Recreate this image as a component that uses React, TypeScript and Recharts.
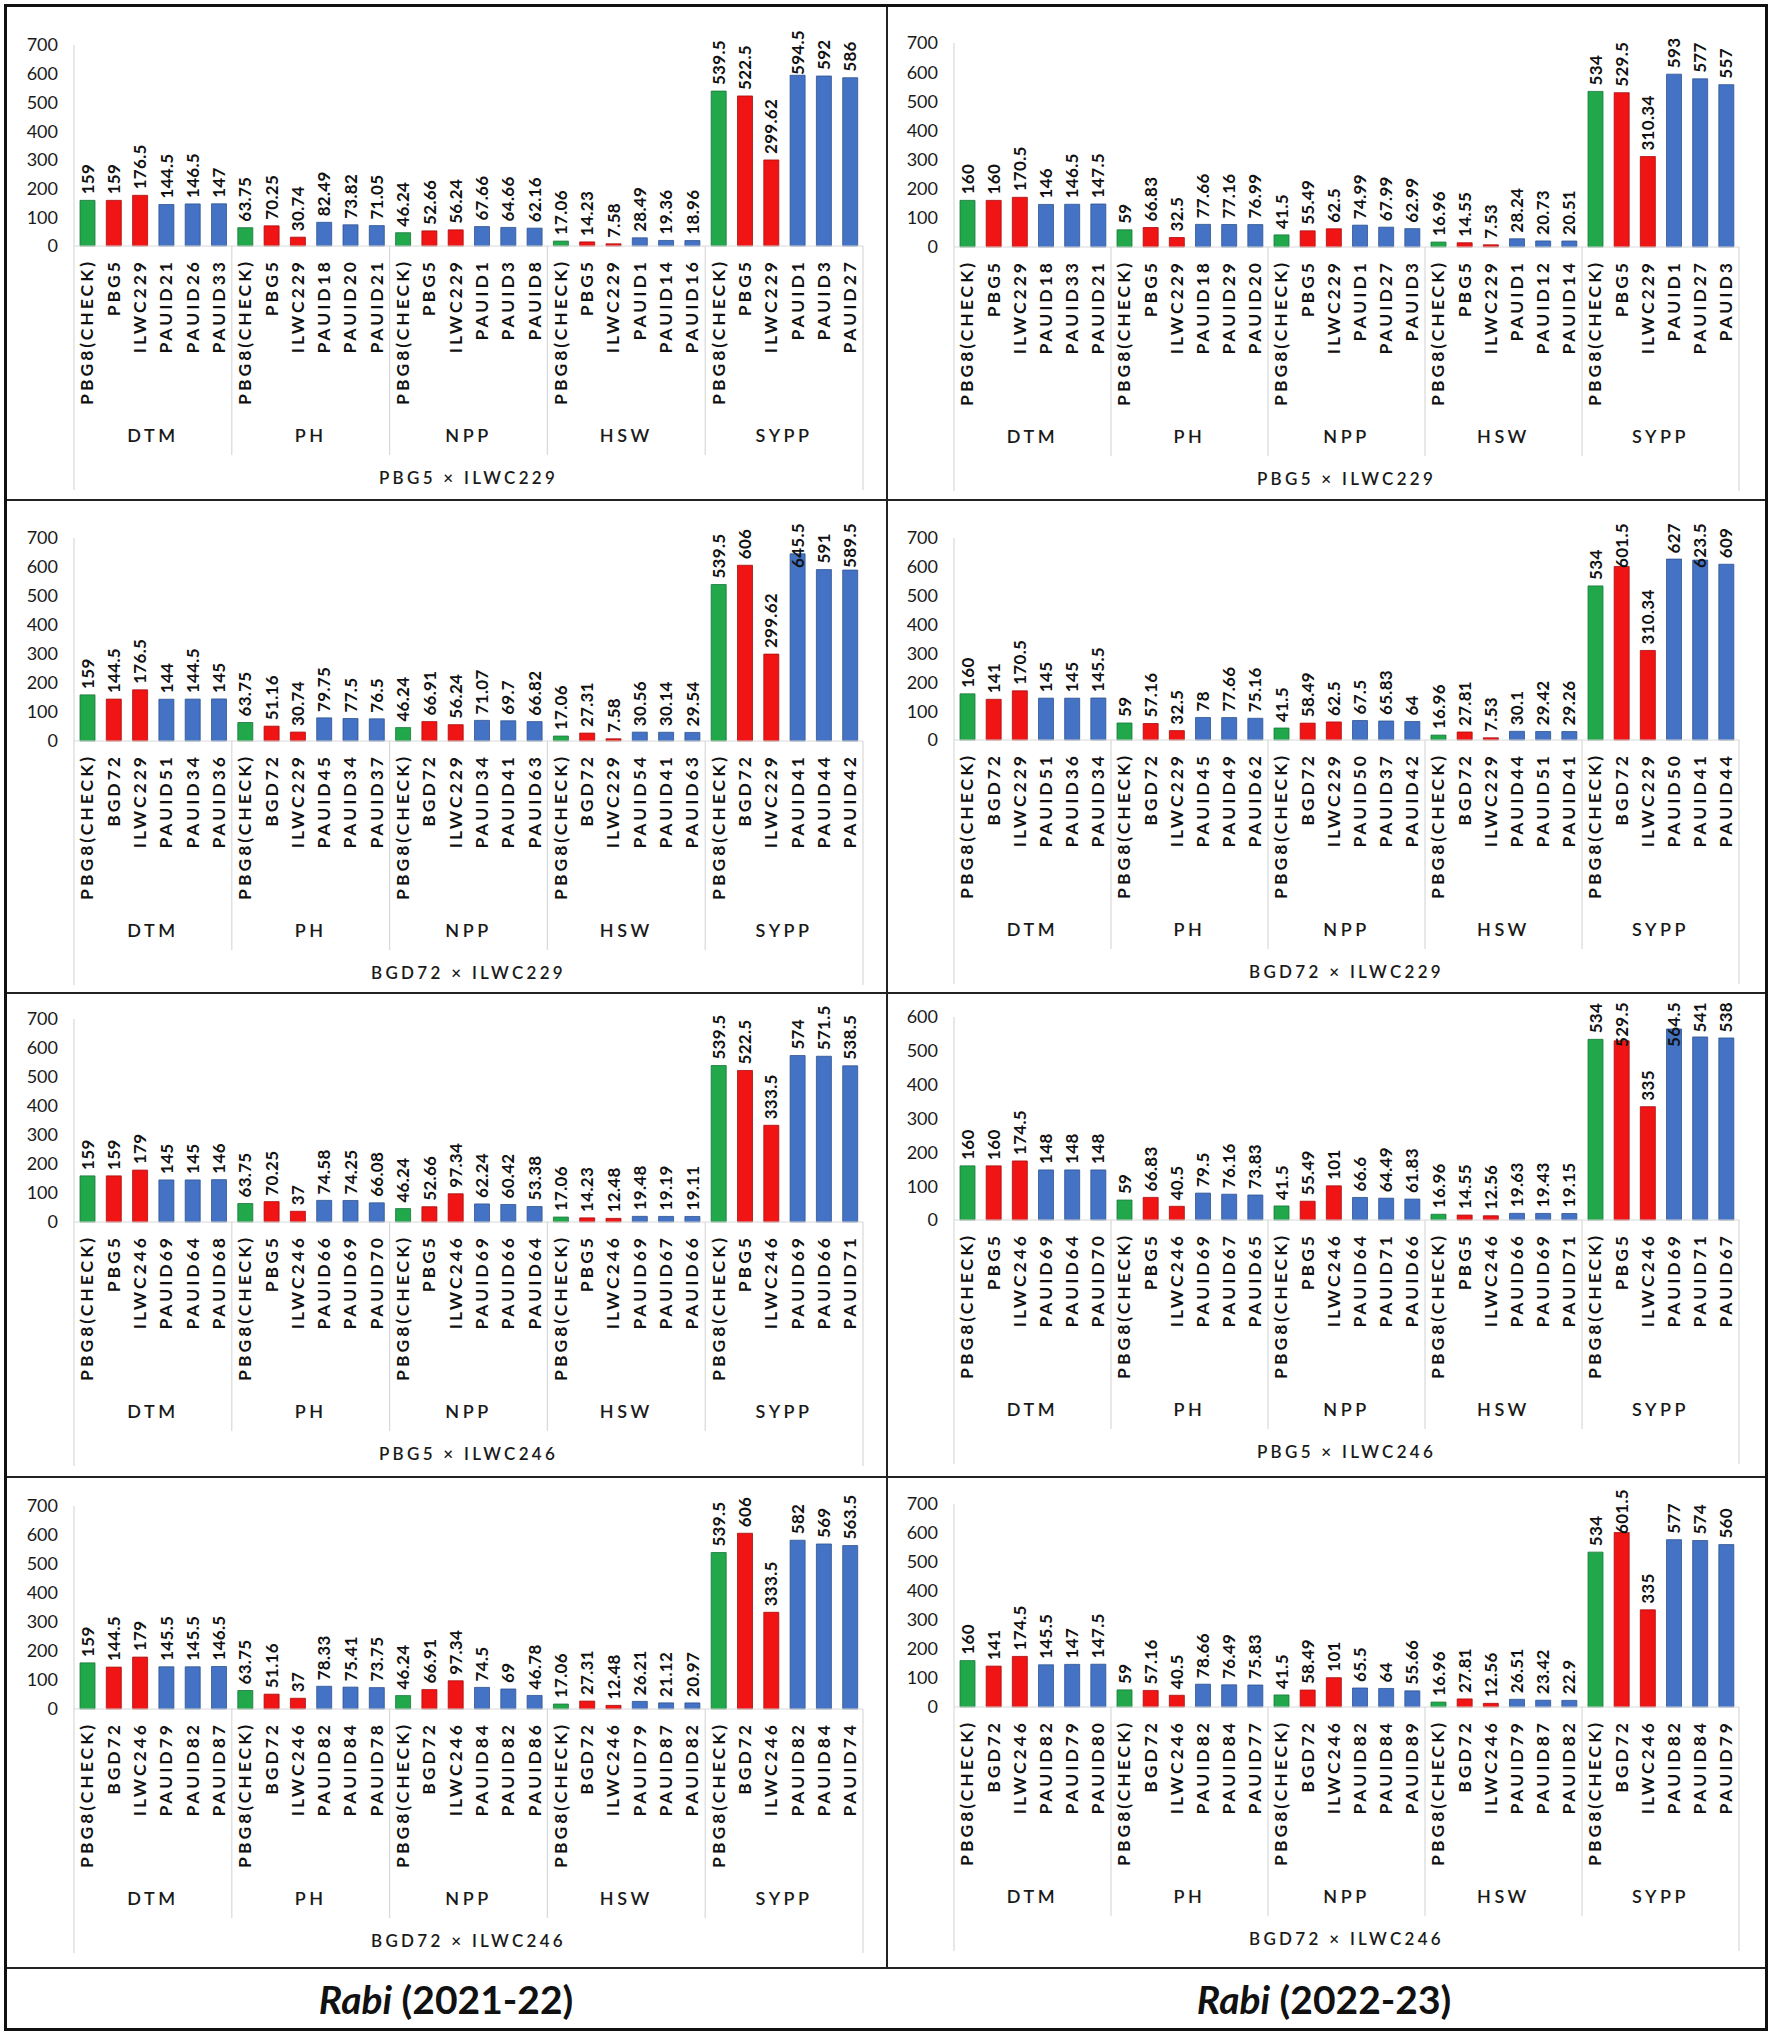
import React from "react";
import { BarChart, Bar, XAxis, YAxis, Cell, LabelList } from "recharts";

// trait groups and bar colours (check, parents, three best PAUIDs)
const groups = ["DTM", "PH", "NPP", "HSW", "SYPP"];
const barColors = ["#21a84b", "#f01414", "#f01414", "#4472c4", "#4472c4", "#4472c4"];
const edgeColors = ["#17763a", "#a80d0d", "#a80d0d", "#2f5490", "#2f5490", "#2f5490"];

const ticks700 = [0, 100, 200, 300, 400, 500, 600, 700];
const ticks600 = [0, 100, 200, 300, 400, 500, 600];

// Rabi 2021-22, PBG5 x ILWC229
const namesA = [
  "PBG8(CHECK)", "PBG5", "ILWC229", "PAUID21", "PAUID26", "PAUID33",
  "PBG8(CHECK)", "PBG5", "ILWC229", "PAUID18", "PAUID20", "PAUID21",
  "PBG8(CHECK)", "PBG5", "ILWC229", "PAUID1", "PAUID3", "PAUID8",
  "PBG8(CHECK)", "PBG5", "ILWC229", "PAUID1", "PAUID14", "PAUID16",
  "PBG8(CHECK)", "PBG5", "ILWC229", "PAUID1", "PAUID3", "PAUID27",
];
const valuesA = [
  159, 159, 176.5, 144.5, 146.5, 147,
  63.75, 70.25, 30.74, 82.49, 73.82, 71.05,
  46.24, 52.66, 56.24, 67.66, 64.66, 62.16,
  17.06, 14.23, 7.58, 28.49, 19.36, 18.96,
  539.5, 522.5, 299.62, 594.5, 592, 586,
];

// Rabi 2022-23, PBG5 x ILWC229
const namesB = [
  "PBG8(CHECK)", "PBG5", "ILWC229", "PAUID18", "PAUID33", "PAUID21",
  "PBG8(CHECK)", "PBG5", "ILWC229", "PAUID18", "PAUID29", "PAUID20",
  "PBG8(CHECK)", "PBG5", "ILWC229", "PAUID1", "PAUID27", "PAUID3",
  "PBG8(CHECK)", "PBG5", "ILWC229", "PAUID1", "PAUID12", "PAUID14",
  "PBG8(CHECK)", "PBG5", "ILWC229", "PAUID1", "PAUID27", "PAUID3",
];
const valuesB = [
  160, 160, 170.5, 146, 146.5, 147.5,
  59, 66.83, 32.5, 77.66, 77.16, 76.99,
  41.5, 55.49, 62.5, 74.99, 67.99, 62.99,
  16.96, 14.55, 7.53, 28.24, 20.73, 20.51,
  534, 529.5, 310.34, 593, 577, 557,
];

// Rabi 2021-22, BGD72 x ILWC229
const namesC = [
  "PBG8(CHECK)", "BGD72", "ILWC229", "PAUID51", "PAUID34", "PAUID36",
  "PBG8(CHECK)", "BGD72", "ILWC229", "PAUID45", "PAUID34", "PAUID37",
  "PBG8(CHECK)", "BGD72", "ILWC229", "PAUID34", "PAUID41", "PAUID63",
  "PBG8(CHECK)", "BGD72", "ILWC229", "PAUID54", "PAUID41", "PAUID63",
  "PBG8(CHECK)", "BGD72", "ILWC229", "PAUID41", "PAUID44", "PAUID42",
];
const valuesC = [
  159, 144.5, 176.5, 144, 144.5, 145,
  63.75, 51.16, 30.74, 79.75, 77.5, 76.5,
  46.24, 66.91, 56.24, 71.07, 69.7, 66.82,
  17.06, 27.31, 7.58, 30.56, 30.14, 29.54,
  539.5, 606, 299.62, 645.5, 591, 589.5,
];

// Rabi 2022-23, BGD72 x ILWC229
const namesD = [
  "PBG8(CHECK)", "BGD72", "ILWC229", "PAUID51", "PAUID36", "PAUID34",
  "PBG8(CHECK)", "BGD72", "ILWC229", "PAUID45", "PAUID49", "PAUID62",
  "PBG8(CHECK)", "BGD72", "ILWC229", "PAUID50", "PAUID37", "PAUID42",
  "PBG8(CHECK)", "BGD72", "ILWC229", "PAUID44", "PAUID51", "PAUID41",
  "PBG8(CHECK)", "BGD72", "ILWC229", "PAUID50", "PAUID41", "PAUID44",
];
const valuesD = [
  160, 141, 170.5, 145, 145, 145.5,
  59, 57.16, 32.5, 78, 77.66, 75.16,
  41.5, 58.49, 62.5, 67.5, 65.83, 64,
  16.96, 27.81, 7.53, 30.1, 29.42, 29.26,
  534, 601.5, 310.34, 627, 623.5, 609,
];

// Rabi 2021-22, PBG5 x ILWC246
const namesE = [
  "PBG8(CHECK)", "PBG5", "ILWC246", "PAUID69", "PAUID64", "PAUID68",
  "PBG8(CHECK)", "PBG5", "ILWC246", "PAUID66", "PAUID69", "PAUID70",
  "PBG8(CHECK)", "PBG5", "ILWC246", "PAUID69", "PAUID66", "PAUID64",
  "PBG8(CHECK)", "PBG5", "ILWC246", "PAUID69", "PAUID67", "PAUID66",
  "PBG8(CHECK)", "PBG5", "ILWC246", "PAUID69", "PAUID66", "PAUID71",
];
const valuesE = [
  159, 159, 179, 145, 145, 146,
  63.75, 70.25, 37, 74.58, 74.25, 66.08,
  46.24, 52.66, 97.34, 62.24, 60.42, 53.38,
  17.06, 14.23, 12.48, 19.48, 19.19, 19.11,
  539.5, 522.5, 333.5, 574, 571.5, 538.5,
];

// Rabi 2022-23, PBG5 x ILWC246
const namesF = [
  "PBG8(CHECK)", "PBG5", "ILWC246", "PAUID69", "PAUID64", "PAUID70",
  "PBG8(CHECK)", "PBG5", "ILWC246", "PAUID69", "PAUID67", "PAUID65",
  "PBG8(CHECK)", "PBG5", "ILWC246", "PAUID64", "PAUID71", "PAUID66",
  "PBG8(CHECK)", "PBG5", "ILWC246", "PAUID66", "PAUID69", "PAUID71",
  "PBG8(CHECK)", "PBG5", "ILWC246", "PAUID69", "PAUID71", "PAUID67",
];
const valuesF = [
  160, 160, 174.5, 148, 148, 148,
  59, 66.83, 40.5, 79.5, 76.16, 73.83,
  41.5, 55.49, 101, 66.6, 64.49, 61.83,
  16.96, 14.55, 12.56, 19.63, 19.43, 19.15,
  534, 529.5, 335, 564.5, 541, 538,
];

// Rabi 2021-22, BGD72 x ILWC246
const namesG = [
  "PBG8(CHECK)", "BGD72", "ILWC246", "PAUID79", "PAUID82", "PAUID87",
  "PBG8(CHECK)", "BGD72", "ILWC246", "PAUID82", "PAUID84", "PAUID78",
  "PBG8(CHECK)", "BGD72", "ILWC246", "PAUID84", "PAUID82", "PAUID86",
  "PBG8(CHECK)", "BGD72", "ILWC246", "PAUID79", "PAUID87", "PAUID82",
  "PBG8(CHECK)", "BGD72", "ILWC246", "PAUID82", "PAUID84", "PAUID74",
];
const valuesG = [
  159, 144.5, 179, 145.5, 145.5, 146.5,
  63.75, 51.16, 37, 78.33, 75.41, 73.75,
  46.24, 66.91, 97.34, 74.5, 69, 46.78,
  17.06, 27.31, 12.48, 26.21, 21.12, 20.97,
  539.5, 606, 333.5, 582, 569, 563.5,
];

// Rabi 2022-23, BGD72 x ILWC246
const namesH = [
  "PBG8(CHECK)", "BGD72", "ILWC246", "PAUID82", "PAUID79", "PAUID80",
  "PBG8(CHECK)", "BGD72", "ILWC246", "PAUID82", "PAUID84", "PAUID77",
  "PBG8(CHECK)", "BGD72", "ILWC246", "PAUID82", "PAUID84", "PAUID89",
  "PBG8(CHECK)", "BGD72", "ILWC246", "PAUID79", "PAUID87", "PAUID82",
  "PBG8(CHECK)", "BGD72", "ILWC246", "PAUID82", "PAUID84", "PAUID79",
];
const valuesH = [
  160, 141, 174.5, 145.5, 147, 147.5,
  59, 57.16, 40.5, 78.66, 76.49, 75.83,
  41.5, 58.49, 101, 65.5, 64, 55.66,
  16.96, 27.81, 12.56, 26.51, 23.42, 22.9,
  534, 601.5, 335, 577, 574, 560,
];

const FONT = "Lato, 'Open Sans', sans-serif";

// layout of the 4x2 grid (page pixels)
const rows = [
  { top: 6, bottom: 500 },
  { top: 500, bottom: 993 },
  { top: 993, bottom: 1477 },
  { top: 1477, bottom: 1968 },
];
const sides = {
  L: { left: 6, width: 881, yw: 68, mr: 24 },
  R: { left: 888, width: 877, yw: 66, mr: 26 },
};

const panels = [
  { names: namesA, values: valuesA, title: "PBG5 × ILWC229", row: 0, side: "L", ymax: 700, plotTop: 45, zero: 246 },
  { names: namesB, values: valuesB, title: "PBG5 × ILWC229", row: 0, side: "R", ymax: 700, plotTop: 43, zero: 247 },
  { names: namesC, values: valuesC, title: "BGD72 × ILWC229", row: 1, side: "L", ymax: 700, plotTop: 538, zero: 741 },
  { names: namesD, values: valuesD, title: "BGD72 × ILWC229", row: 1, side: "R", ymax: 700, plotTop: 538, zero: 740 },
  { names: namesE, values: valuesE, title: "PBG5 × ILWC246", row: 2, side: "L", ymax: 700, plotTop: 1019, zero: 1222 },
  { names: namesF, values: valuesF, title: "PBG5 × ILWC246", row: 2, side: "R", ymax: 600, plotTop: 1017, zero: 1220 },
  { names: namesG, values: valuesG, title: "BGD72 × ILWC246", row: 3, side: "L", ymax: 700, plotTop: 1506, zero: 1709 },
  { names: namesH, values: valuesH, title: "BGD72 × ILWC246", row: 3, side: "R", ymax: 700, plotTop: 1504, zero: 1707 },
];

function CatTick(props: any) {
  const { x, y, payload, cw, title } = props;
  const i = props.index ?? payload?.index ?? 0;
  const line = "#d9d9d9";
  const ly = y + 13;
  return (
    <g>
      <text
        x={x}
        y={ly}
        transform={`rotate(-90 ${x} ${ly})`}
        textAnchor="end"
        dy="0.36em"
        fontSize={17.5}
        fontWeight={700}
        letterSpacing={3}
        fill="#111"
        fontFamily={FONT}
      >
        {payload.value}
      </text>
      {i % 6 === 0 && i > 0 && (
        <line x1={x - cw / 2} x2={x - cw / 2} y1={y} y2={y + 209} stroke={line} strokeWidth={1.2} />
      )}
      {i === 0 && <line x1={x - cw / 2} x2={x - cw / 2} y1={y} y2={y + 244} stroke={line} strokeWidth={1.2} />}
      {i === 29 && <line x1={x + cw / 2} x2={x + cw / 2} y1={y} y2={y + 244} stroke={line} strokeWidth={1.2} />}
      {i % 6 === 2 && (
        <text
          x={x + cw / 2}
          y={y + 190}
          textAnchor="middle"
          dy="0.36em"
          fontSize={18}
          fontWeight={600}
          letterSpacing={3.5}
          fill="#1a1a1a"
          fontFamily={FONT}
        >
          {groups[Math.floor(i / 6)]}
        </text>
      )}
      {i === 14 && (
        <text
          x={x + cw / 2}
          y={y + 232}
          textAnchor="middle"
          dy="0.36em"
          fontSize={17}
          fontWeight={600}
          letterSpacing={3.3}
          fill="#1a1a1a"
          fontFamily={FONT}
        >
          {title}
        </text>
      )}
    </g>
  );
}

function ValueLabel(props: any) {
  const { x, y, width, value, minTop } = props;
  const cx = Number(x) + Number(width) / 2;
  const txt = String(value);
  const len = txt.split("").reduce((s, c) => s + (c === "." ? 5 : 10.2), 0);
  let ay = Number(y) - 6;
  let anchor = "start";
  if (ay - len < minTop) {
    ay = minTop;
    anchor = "end";
  }
  return (
    <text
      x={cx}
      y={ay}
      transform={`rotate(-90 ${cx} ${ay})`}
      textAnchor={anchor}
      dy="0.36em"
      fontSize={17}
      fontWeight={700}
      letterSpacing={0.3}
      fill="#111"
      fontFamily={FONT}
    >
      {txt}
    </text>
  );
}

function Panel({ p }: { p: any }) {
  const r = rows[p.row];
  const s = (sides as any)[p.side];
  const height = r.bottom - r.top;
  const mt = p.plotTop - r.top;
  const xh = r.bottom - p.zero;
  const cw = (s.width - s.yw - s.mr) / 30;
  const data = p.names.map((n: string, i: number) => ({ name: n, v: p.values[i] }));
  return (
    <div style={{ position: "absolute", left: s.left, top: r.top }}>
      <BarChart
        width={s.width}
        height={height}
        data={data}
        margin={{ top: mt, right: s.mr, bottom: 0, left: 0 }}
        barCategoryGap={0}
        style={{ fontFamily: FONT }}
      >
        <XAxis
          dataKey="name"
          interval={0}
          height={xh}
          tickSize={0}
          tickMargin={0}
          tickLine={false}
          axisLine={{ stroke: "#d9d9d9", strokeWidth: 1.2 }}
          tick={(t: any) => <CatTick {...t} cw={cw} title={p.title} />}
        />
        <YAxis
          width={s.yw}
          domain={[0, p.ymax]}
          ticks={p.ymax === 600 ? ticks600 : ticks700}
          interval={0}
          tickSize={0}
          tickMargin={16}
          tickLine={false}
          axisLine={{ stroke: "#d9d9d9", strokeWidth: 1.2 }}
          tick={{ fontSize: 18, fill: "#1a1a1a", fontFamily: FONT }}
        />
        <Bar dataKey="v" barSize={15} isAnimationActive={false}>
          {data.map((_: any, i: number) => (
            <Cell key={i} fill={barColors[i % 6]} stroke={edgeColors[i % 6]} strokeWidth={0.8} />
          ))}
          <LabelList dataKey="v" content={(lp: any) => <ValueLabel {...lp} minTop={mt - 15} />} />
        </Bar>
      </BarChart>
    </div>
  );
}

export default function App() {
  const dark = "#222";
  return (
    <div
      style={{
        position: "absolute",
        left: 0,
        top: 0,
        width: 1772,
        height: 2037,
        background: "#fff",
        fontFamily: FONT,
        overflow: "hidden",
      }}
    >
      {panels.map((p, i) => (
        <Panel key={i} p={p} />
      ))}
      {/* grid lines between panels */}
      {[500, 993, 1477, 1968].map((y) => (
        <div key={y} style={{ position: "absolute", left: 5, top: y - 1, width: 1762, height: 2, background: dark }} />
      ))}
      <div style={{ position: "absolute", left: 886, top: 5, width: 2, height: 1963, background: dark }} />
      <div
        style={{
          position: "absolute",
          left: 4,
          top: 4,
          width: 1758,
          height: 2021,
          border: "3px solid #111",
        }}
      />
      {[
        { cx: 446, label: "(2021-22)" },
        { cx: 1324, label: "(2022-23)" },
      ].map((t) => (
        <div
          key={t.label}
          style={{
            position: "absolute",
            left: t.cx - 200,
            width: 400,
            top: 1974,
            height: 50,
            lineHeight: "50px",
            textAlign: "center",
            fontSize: 39,
            fontWeight: 700,
            color: "#111",
          }}
        >
          <i>Rabi</i> {t.label}
        </div>
      ))}
    </div>
  );
}
